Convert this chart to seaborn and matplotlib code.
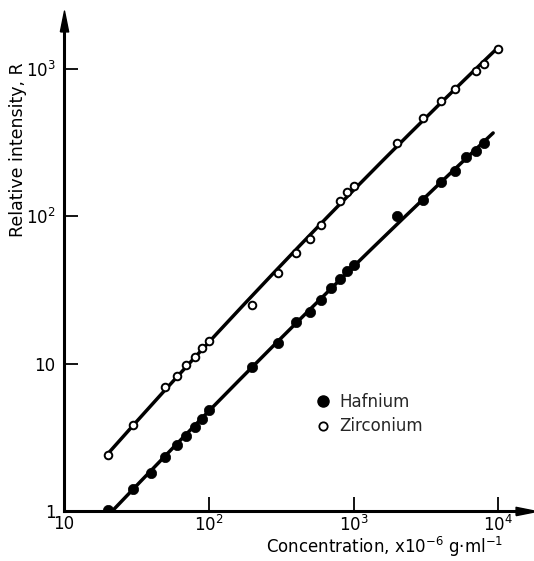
import numpy as np
import pandas as pd
import matplotlib
matplotlib.use("Agg")
import matplotlib.pyplot as plt
import seaborn as sns
from matplotlib.lines import Line2D
from matplotlib.ticker import FixedLocator, NullLocator

# ---- data ----
hf_x = [20, 30, 40, 50, 60, 70, 80, 90, 100, 200, 300, 400, 500, 600, 700, 800, 900,
        1000, 2000, 3000, 4000, 5000, 6000, 7000, 8000]
hf_y = [1.02, 1.40, 1.81, 2.32, 2.79, 3.23, 3.72, 4.24, 4.83, 9.5, 13.9, 19.1, 22.5,
        27.0, 32.8, 37.4, 42.8, 46.8, 100.8, 129.5, 170, 202, 253, 276, 315]
zr_x = [20, 30, 50, 60, 70, 80, 90, 100, 200, 300, 400, 500, 600, 800, 900, 1000,
        2000, 3000, 4000, 5000, 7000, 8000, 10000]
zr_y = [2.41, 3.82, 6.95, 8.26, 9.77, 11.1, 12.7, 14.3, 25.0, 41.5, 56.7, 70, 87.5,
        128, 146, 162, 315, 466, 611, 733, 977, 1089, 1372]
hf_line_range = [20, 9200]
zr_line_range = [20, 10000]

x_ticks = [10, 100, 1000, 10000]
x_ticklabels = ["10", "$10^2$", "$10^3$", "$10^4$"]
y_ticks = [1, 10, 100, 1000]
y_ticklabels = ["1", "10", "$10^2$", "$10^3$"]
series_names = ["Hafnium", "Zirconium"]

sns.set_theme(style="white")
plt.rcParams["font.family"] = ["DejaVu Sans"]
plt.rcParams["mathtext.default"] = "regular"

hf = pd.DataFrame({"x": hf_x, "y": hf_y})
zr = pd.DataFrame({"x": zr_x, "y": zr_y})


def fit_line(df, rng):
    c = np.polyfit(np.log10(df["x"]), np.log10(df["y"]), 2)
    xs = np.geomspace(rng[0], rng[1], 200)
    ys = 10 ** np.polyval(c, np.log10(xs))
    return pd.DataFrame({"x": xs, "y": ys})


W, H = 534, 561
fig = plt.figure(figsize=(W / 100, H / 100), dpi=100)
L, R, B, T = 64, 526, 511, 21
ax = fig.add_axes([L / W, (H - B) / H, (R - L) / W, (B - T) / H])
ax.set_xscale("log")
ax.set_yscale("log")
ax.set_xlim(10, 10 ** (1 + (R - L) / 144.8))
ax.set_ylim(1, 10 ** ((B - T) / 147.3))

lw = 2.5
sns.lineplot(data=fit_line(hf, hf_line_range), x="x", y="y", ax=ax, color="black",
             lw=lw, zorder=2, estimator=None, sort=False)
sns.lineplot(data=fit_line(zr, zr_line_range), x="x", y="y", ax=ax, color="black",
             lw=lw, zorder=2, estimator=None, sort=False)
sns.scatterplot(data=hf, x="x", y="y", ax=ax, color="black", s=55, edgecolor="black",
                linewidth=0.5, zorder=3)
sns.scatterplot(data=zr, x="x", y="y", ax=ax, facecolor="white", s=30,
                edgecolor="black", linewidth=1.4, zorder=3)

# axes styling
for s in ["top", "right"]:
    ax.spines[s].set_visible(False)
for s in ["left", "bottom"]:
    ax.spines[s].set_linewidth(2.2)
    ax.spines[s].set_color("black")
ax.xaxis.set_major_locator(FixedLocator(x_ticks))
ax.yaxis.set_major_locator(FixedLocator(y_ticks))
ax.xaxis.set_minor_locator(NullLocator())
ax.yaxis.set_minor_locator(NullLocator())
ax.set_xticklabels(x_ticklabels)
ax.set_yticklabels(y_ticklabels)
ax.tick_params(axis="both", which="major", direction="in", length=10, width=1.3,
               color="black", labelsize=12, labelcolor="black")
ax.tick_params(axis="x", pad=3, bottom=True)
ax.tick_params(axis="y", pad=6, left=True)

# arrow heads
arrow_up = [(-0.4, -1), (0.4, -1), (0, 1), (-0.4, -1)]
arrow_right = [(-1, -0.4), (-1, 0.4), (1, 0), (-1, -0.4)]
ax.plot([0], [1], marker=arrow_up, markersize=15, color="black",
        transform=ax.transAxes, clip_on=False)
ax.plot([1], [0], marker=arrow_right, markersize=15, color="black",
        transform=ax.transAxes, clip_on=False)

ax.set_xlabel("Concentration, x10$^{-6}$ g·ml$^{-1}$", fontsize=12, color="black")
ax.set_ylabel("Relative intensity, R", fontsize=12.5, color="black")
ax.xaxis.set_label_coords((385 - L) / (R - L), (B - 535) / (B - T))
ax.yaxis.set_label_coords((27 - L) / (R - L), (B - 150) / (B - T))

handles = [
    Line2D([], [], marker="o", linestyle="none", markersize=8, markerfacecolor="black",
           markeredgecolor="black"),
    Line2D([], [], marker="o", linestyle="none", markersize=6, markerfacecolor="white",
           markeredgecolor="black", markeredgewidth=1.3),
]
ax.legend(handles, series_names, frameon=False, fontsize=12, loc="upper left",
          bbox_to_anchor=((306 - L) / (R - L), (B - 386) / (B - T)),
          handletextpad=0.4, labelspacing=0.4, borderaxespad=0, handlelength=1.2)

fig.savefig("out.png", dpi=100)
